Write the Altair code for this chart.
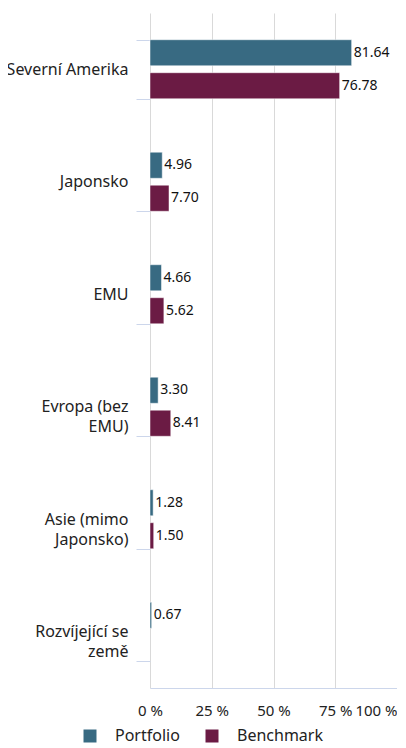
import altair as alt
import pandas as pd

categories = ["Severní Amerika", "Japonsko", "EMU", "Evropa (bez EMU)",
              "Asie (mimo Japonsko)", "Rozvíjející se země"]
portfolio = [81.64, 4.96, 4.66, 3.30, 1.28, 0.67]
benchmark = [76.78, 7.70, 5.62, 8.41, 1.50, None]
series = ["Portfolio", "Benchmark"]
colors = ["#386a82", "#6b1b44"]
x_ticks = [0, 25, 50, 75, 100]
wrapped = {
    "Evropa (bez EMU)": ["Evropa (bez", "EMU)"],
    "Asie (mimo Japonsko)": ["Asie (mimo", "Japonsko)"],
    "Rozvíjející se země": ["Rozvíjející se", "země"],
}

rows = []
for c, p, b in zip(categories, portfolio, benchmark):
    if p is not None:
        rows.append({"cat": c, "series": "Portfolio", "value": p})
    if b is not None:
        rows.append({"cat": c, "series": "Benchmark", "value": b})
df = pd.DataFrame(rows)

label_expr = ""
for k, v in wrapped.items():
    arr = "[" + ", ".join("'" + s + "'" for s in v) + "]"
    label_expr += f"datum.label == '{k}' ? {arr} : "
label_expr += "datum.label"

FONT = "Noto Sans"

y_enc = alt.Y("cat:N", sort=categories, title=None,
              scale=alt.Scale(paddingInner=0.475, paddingOuter=0.2375),
              axis=alt.Axis(tickBand="extent", tickSize=14, tickColor="#ccd6eb",
                            domain=False, grid=False, labelFontSize=16,
                            labelColor="#222222", labelPadding=8, labelFont=FONT,
                            labelLineHeight=20, labelExpr=label_expr, labelLimit=200))
yoff = alt.YOffset("series:N", sort=series,
                   scale=alt.Scale(paddingInner=0.21, paddingOuter=0))
x_enc = alt.X("value:Q", title=None,
              scale=alt.Scale(domain=[0, 100], nice=False),
              axis=alt.Axis(values=x_ticks, ticks=False, domainColor="#ccd6eb",
                            gridColor="#d9d9d9", labelFontSize=15, labelColor="#222222",
                            labelFont=FONT, labelPadding=15,
                            labelExpr="datum.value + ' %'",
                            labelAlign=alt.expr("datum.value == 100 ? 'right' : 'center'")))

bars = alt.Chart(df).mark_bar(stroke="#ffffff", strokeOpacity=0.5, strokeWidth=1).encode(
    x=x_enc,
    y=y_enc,
    yOffset=yoff,
    color=alt.Color("series:N", sort=series,
                    scale=alt.Scale(domain=series, range=colors),
                    legend=alt.Legend(orient="none", legendX=-68, legendY=715,
                                      direction="horizontal", title=None,
                                      symbolType="square", symbolSize=169,
                                      symbolStrokeWidth=0,
                                      labelFontSize=16, labelFont=FONT,
                                      labelColor="#222222", labelOffset=17,
                                      columnPadding=24, padding=0)),
)

labels = alt.Chart(df).mark_text(align="left", baseline="middle", dx=2,
                                 fontSize=14, font=FONT, color="#111111").encode(
    x="value:Q",
    y=alt.Y("cat:N", sort=categories),
    yOffset=alt.YOffset("series:N", sort=series),
    text=alt.Text("value:Q", format=".2f"),
)

chart = alt.layer(bars, labels).properties(
    width=247, height=675,
    autosize=alt.AutoSizeParams(type="none"),
    padding={"left": 142, "top": 5, "right": 0, "bottom": 58},
).configure_view(stroke=None)

chart.save("out.html", embed_options={"renderer": "svg", "actions": False})
